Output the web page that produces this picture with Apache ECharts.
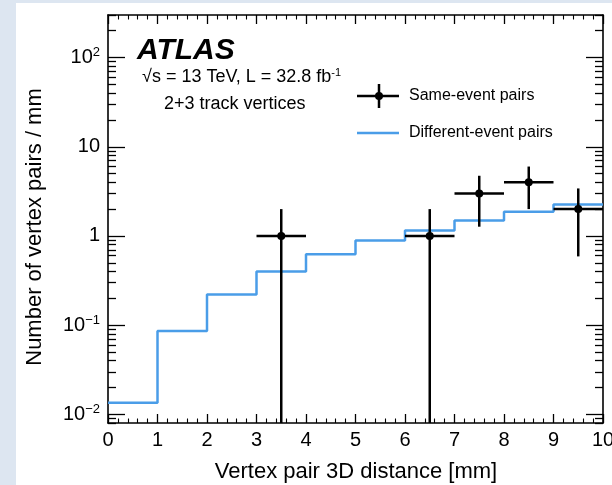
<!DOCTYPE html>
<html><head><meta charset="utf-8">
<script src="https://cdn.jsdelivr.net/npm/echarts@6/dist/echarts.min.js"></script>
<style>html,body{margin:0;padding:0;background:#fff}#c{width:612px;height:485px}</style>
</head><body><div id="c"></div>
<script>
// ---- data ----
const binLeftEdges = [0, 1, 2, 3, 4, 5, 6, 7, 8, 9];
const binUpperEdge = 10;
const diffEventPairs = [0.0135, 0.086, 0.22, 0.40, 0.625, 0.89, 1.15, 1.49, 1.87, 2.25];
const sameX = [3.5, 6.5, 7.5, 8.5, 9.5];
const sameY = [1, 1, 3, 4, 2];
const sameErrUp = [1, 1, 1.73, 2, 1.41];
const sameErrDown = [1, 1, 1.73, 2, 1.41];
const sameXHalfWidth = [0.5, 0.5, 0.5, 0.5, 0.5];
const yMajorTicks = [0.01, 0.1, 1, 10, 100];
const yMin = 0.008, yMax = 300;

// minor log ticks (axis decoration)
const yMinorTicks = [];
for (let e = -3; e <= 2; e++) for (let k = 2; k <= 9; k++) {
  const v = +(k * Math.pow(10, e)).toPrecision(3);
  if (v >= yMin && v <= yMax) yMinorTicks.push(v);
}

const FONT = 'Liberation Sans, Arial, Helvetica, sans-serif';
const BLUE = '#4a9de8';

const stepData = binLeftEdges.map((x, i) => [x, diffEventPairs[i]]);
stepData.push([binUpperEdge, diffEventPairs[diffEventPairs.length - 1]]);

const errData = sameX.map((x, i) => [x, sameY[i], sameY[i] - sameErrDown[i], sameY[i] + sameErrUp[i], sameXHalfWidth[i]]);

function yLabel(v) {
  const e = Math.round(Math.log10(v));
  if (e === 0) return '1';
  if (e === 1) return '10';
  return '10{sup|' + (e < 0 ? '\u2212' + (-e) : e) + '}';
}

const tickLine = { color: '#000', width: 1.3 };
function yAxisDef(pos, ticks, len, showLabel, showLine) {
  return {
    type: 'log', position: pos, min: yMin, max: yMax, logBase: 10,
    axisLine: { show: showLine, lineStyle: { color: '#000', width: 1.6 } },
    axisTick: { show: true, inside: true, length: len, customValues: ticks, lineStyle: tickLine },
    minorTick: { show: false },
    splitLine: { show: false },
    axisLabel: showLabel ? {
      show: true, customValues: yMajorTicks, margin: 8, formatter: yLabel,
      color: '#000', fontFamily: FONT, fontSize: 20,
      rich: { sup: { fontSize: 13, fontFamily: FONT, color: '#000', verticalAlign: 'top', padding: [0, 0, 10, 0] } }
    } : { show: false }
  };
}
function xAxisDef(pos, showLabel) {
  return {
    type: 'value', position: pos, min: 0, max: 10, interval: 1,
    axisLine: { show: true, lineStyle: { color: '#000', width: 1.6 } },
    axisTick: { show: true, inside: true, length: 9, lineStyle: tickLine },
    minorTick: { show: true, splitNumber: 5, length: 4.5, lineStyle: { color: '#000', width: 1.1 } },
    splitLine: { show: false },
    axisLabel: showLabel ? { show: true, margin: 7, color: '#000', fontFamily: FONT, fontSize: 20 } : { show: false }
  };
}

const chart = echarts.init(document.getElementById('c'), null, { renderer: 'canvas' });
chart.setOption({
  backgroundColor: '#fff',
  animation: false,
  grid: { left: 108, right: 9, top: 15, bottom: 62, containLabel: false, outerBoundsMode: 'none' },
  xAxis: [xAxisDef('bottom', true), xAxisDef('top', false)],
  yAxis: [
    yAxisDef('left', yMajorTicks, 17, true, true),
    yAxisDef('left', yMinorTicks, 8, false, false),
    yAxisDef('right', yMajorTicks, 17, false, true),
    yAxisDef('right', yMinorTicks, 8, false, false)
  ],
  series: [
    {
      type: 'line', name: 'Different-event pairs', data: stepData, step: 'end',
      xAxisIndex: 0, yAxisIndex: 0, showSymbol: false, symbol: 'none',
      lineStyle: { color: BLUE, width: 2.5 }, clip: true, z: 2
    },
    {
      type: 'custom', name: 'Same-event pairs', data: errData, xAxisIndex: 0, yAxisIndex: 0,
      encode: { x: 0, y: 1 }, clip: true, z: 3,
      renderItem: function (params, api) {
        const x = api.value(0), y = api.value(1), lo = api.value(2), hi = api.value(3), hw = api.value(4);
        const cs = params.coordSys;
        const pc = api.coord([x, y]);
        const pl = api.coord([x - hw, y]);
        const pr = api.coord([x + hw, y]);
        const ph = api.coord([x, hi]);
        const yLoPix = lo > yMin ? api.coord([x, lo])[1] : cs.y + cs.height;
        const st = { stroke: '#000', lineWidth: 2.5 };
        return {
          type: 'group', children: [
            { type: 'line', shape: { x1: pl[0], y1: pc[1], x2: pr[0], y2: pc[1] }, style: st },
            { type: 'line', shape: { x1: pc[0], y1: ph[1], x2: pc[0], y2: yLoPix }, style: st },
            { type: 'circle', shape: { cx: pc[0], cy: pc[1], r: 4 }, style: { fill: '#000' } }
          ]
        };
      }
    }
  ],
  graphic: [
    { type: 'rect', left: 0, top: 0, shape: { width: 16, height: 485 }, style: { fill: '#dde6f1' }, silent: true },
    { type: 'rect', left: 0, top: 0, shape: { width: 612, height: 3 }, style: { fill: '#dde6f1' }, silent: true },
    { type: 'text', x: 137, y: 51, style: { text: 'ATLAS', fill: '#000', font: 'italic bold 30px ' + FONT, textVerticalAlign: 'middle' } },
    { type: 'text', x: 142, y: 77, style: {
        text: '\u221As = 13 TeV, L = 32.8 fb{sup|-1}', fill: '#000', fontFamily: FONT, fontSize: 18, textVerticalAlign: 'middle',
        rich: { sup: { fontSize: 11, fontFamily: FONT, fill: '#000', verticalAlign: 'top', padding: [0, 0, 8, 0] } } } },
    { type: 'text', x: 164, y: 104, style: { text: '2+3 track vertices', fill: '#000', fontFamily: FONT, fontSize: 18, textVerticalAlign: 'middle' } },
    // legend
    { type: 'line', shape: { x1: 357, y1: 96, x2: 399, y2: 96 }, style: { stroke: '#000', lineWidth: 2.5 } },
    { type: 'line', shape: { x1: 379, y1: 84, x2: 379, y2: 108 }, style: { stroke: '#000', lineWidth: 2.5 } },
    { type: 'circle', shape: { cx: 379, cy: 96, r: 4 }, style: { fill: '#000' } },
    { type: 'text', x: 409, y: 96, style: { text: 'Same-event pairs', fill: '#000', fontFamily: FONT, fontSize: 16, textVerticalAlign: 'middle' } },
    { type: 'line', shape: { x1: 357, y1: 133, x2: 399, y2: 133 }, style: { stroke: BLUE, lineWidth: 2.5 } },
    { type: 'text', x: 409, y: 133, style: { text: 'Different-event pairs', fill: '#000', fontFamily: FONT, fontSize: 16, textVerticalAlign: 'middle' } },
    // axis titles
    { type: 'text', x: 356, y: 472, style: { text: 'Vertex pair 3D distance [mm]', fill: '#000', fontFamily: FONT, fontSize: 22, textAlign: 'center', textVerticalAlign: 'middle' } },
    { type: 'text', x: 35, y: 227, rotation: Math.PI / 2, style: { text: 'Number of vertex pairs / mm', fill: '#000', fontFamily: FONT, fontSize: 22, textAlign: 'center', textVerticalAlign: 'middle' } }
  ]
});
</script></body></html>
